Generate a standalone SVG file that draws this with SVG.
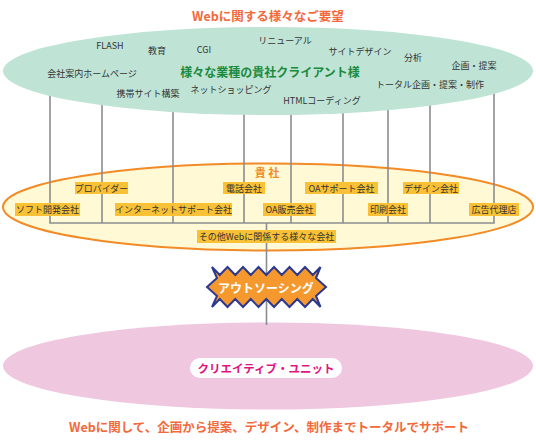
<svg xmlns="http://www.w3.org/2000/svg" width="536" height="440" viewBox="0 0 536 440">
<style>
text{font-family:"Noto Sans CJK JP","Noto Sans",sans-serif;dominant-baseline:central;text-anchor:middle}
.req{font-size:9px;fill:#333}
.lbl rect{fill:#f9c135}
.lbl text{font-size:9px;fill:#333}
.head{font-size:12.5px;font-weight:bold;fill:#f26a3b}
.conn line{stroke:#8b8c91;stroke-width:1.6}
</style>
<rect width="536" height="440" fill="#fff"/>
<text class="head" x="268" y="15">Webに関する様々なご要望</text>

<g id="company">
<ellipse cx="268" cy="207" rx="265" ry="43.5" fill="#fff9d6" stroke="#f28a26" stroke-width="2"/>
<text x="267" y="172" font-size="11" font-weight="bold" fill="#f08a24">貴 社</text>
</g>

<g id="creative-unit">
<ellipse cx="268" cy="366" rx="265" ry="43.5" fill="#efc8e0"/>
</g>

<g class="conn" id="connectors">
<line x1="50" y1="70" x2="50" y2="223"/>
<line x1="102" y1="70" x2="102" y2="223"/>
<line x1="173" y1="70" x2="173" y2="223"/>
<line x1="244" y1="70" x2="244" y2="223"/>
<line x1="291" y1="70" x2="291" y2="223"/>
<line x1="343" y1="70" x2="343" y2="223"/>
<line x1="388" y1="70" x2="388" y2="223"/>
<line x1="430" y1="70" x2="430" y2="223"/>
<line x1="494" y1="70" x2="494" y2="223"/>
<line x1="49.2" y1="223" x2="494.8" y2="223"/>
<line x1="266.5" y1="223" x2="266.5" y2="325"/>
</g>

<g id="clients">
<ellipse cx="268" cy="71" rx="265" ry="44" fill="#bfe4d6"/>
<text x="270" y="71" font-size="12" font-weight="bold" fill="#1b8a3c">様々な業種の貴社クライアント様</text>
<text class="req" x="110" y="45">FLASH</text>
<text class="req" x="157" y="50">教育</text>
<text class="req" x="204" y="49">CGI</text>
<text class="req" x="285" y="40">リニューアル</text>
<text class="req" x="360" y="51">サイトデザイン</text>
<text class="req" x="413" y="57">分析</text>
<text class="req" x="474" y="65">企画・提案</text>
<text class="req" x="92" y="73">会社案内ホームページ</text>
<text class="req" x="148" y="93">携帯サイト構築</text>
<text class="req" x="231" y="89">ネットショッピング</text>
<text class="req" x="322" y="100">HTMLコーディング</text>
<text class="req" x="430" y="84">トータル企画・提案・制作</text>
</g>

<g class="lbl" id="provider"><rect x="75" y="182" width="53" height="12"/><text x="101.5" y="188">プロバイダー</text></g>
<g class="lbl" id="telecom"><rect x="223" y="182" width="42" height="12"/><text x="244" y="188">電話会社</text></g>
<g class="lbl" id="oa-support"><rect x="305" y="182" width="73" height="12"/><text x="341.5" y="188">OAサポート会社</text></g>
<g class="lbl" id="design"><rect x="403" y="182" width="56" height="12"/><text x="431" y="188">デザイン会社</text></g>
<g class="lbl" id="software"><rect x="15" y="203" width="65" height="13"/><text x="47.5" y="209.5">ソフト開発会社</text></g>
<g class="lbl" id="internet-support"><rect x="115" y="203" width="117" height="13"/><text x="173.5" y="209.5">インターネットサポート会社</text></g>
<g class="lbl" id="oa-sales"><rect x="263" y="203" width="53" height="13"/><text x="289.5" y="209.5">OA販売会社</text></g>
<g class="lbl" id="printing"><rect x="368" y="203" width="40" height="13"/><text x="388" y="209.5">印刷会社</text></g>
<g class="lbl" id="advertising"><rect x="469" y="203" width="50" height="13"/><text x="494" y="209.5">広告代理店</text></g>
<g class="lbl" id="other"><rect x="197" y="230" width="139" height="13"/><text x="266.5" y="236.5">その他Webに関係する様々な会社</text></g>

<g id="outsourcing">
<polygon fill="#f5992f" stroke="#2b3990" stroke-width="2" stroke-linejoin="miter" points="207,287 217,278 212,267 219.75,275 227.5,267 235.25,275 243,267 250.75,275 258.5,267 266.25,275 274,267 281.75,275 289.5,267 297.25,275 305,267 312.75,275 320.5,267 316,278 326,287 316,296 320.5,307 312.75,299 305,307 297.25,299 289.5,307 281.75,299 274,307 266.25,299 258.5,307 250.75,299 243,307 235.25,299 227.5,307 219.75,299 212,307 217,296"/>
<text x="266" y="287" font-size="12" font-weight="bold" fill="#fff">アウトソーシング</text>
</g>

<g id="unit-label">
<rect x="190" y="358" width="152" height="20" rx="10" fill="#fff"/>
<text x="266" y="368" font-size="11.5" font-weight="bold" fill="#e0157f">クリエイティブ・ユニット</text>
</g>

<text class="head" x="269" y="426">Webに関して、企画から提案、デザイン、制作までトータルでサポート</text>
</svg>
